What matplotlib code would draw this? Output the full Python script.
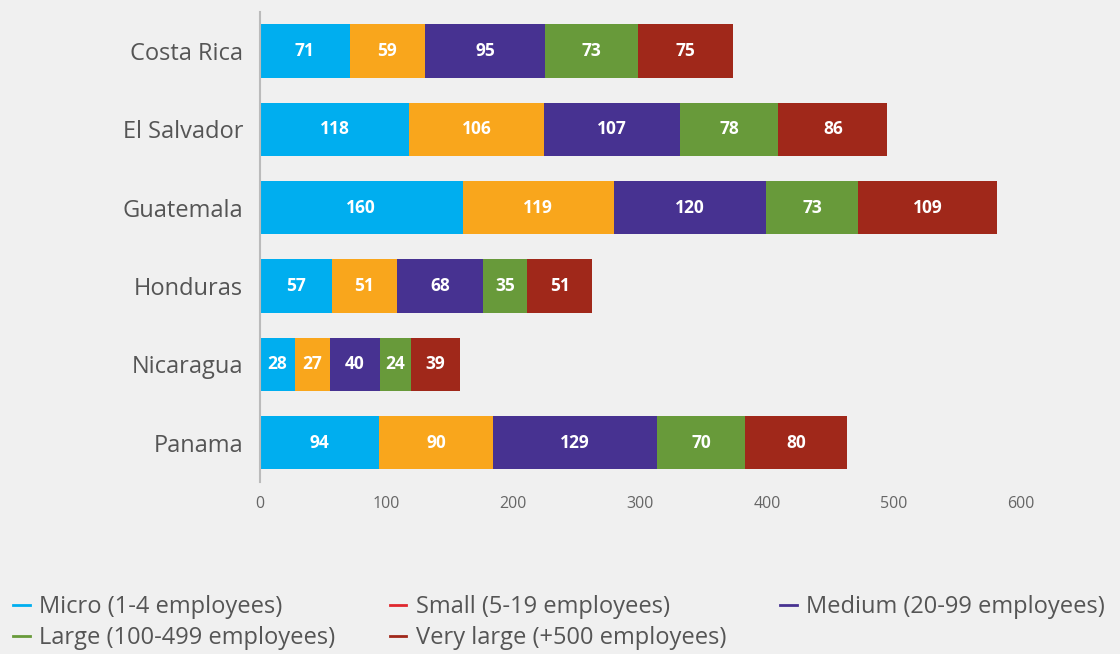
import matplotlib.pyplot as plt
from matplotlib.lines import Line2D
import numpy as np

plt.rcParams['font.family'] = ['Open Sans', 'DejaVu Sans']

countries = ['Costa Rica', 'El Salvador', 'Guatemala', 'Honduras', 'Nicaragua', 'Panama']
micro = [71, 118, 160, 57, 28, 94]
small = [59, 106, 119, 51, 27, 90]
medium = [95, 107, 120, 68, 40, 129]
large = [73, 78, 73, 35, 24, 70]
very_large = [75, 86, 109, 51, 39, 80]

series = [micro, small, medium, large, very_large]
names = ['Micro (1-4 employees)', 'Small (5-19 employees)', 'Medium (20-99 employees)',
         'Large (100-499 employees)', 'Very large (+500 employees)']
colors = ['#00aeef', '#f9a61c', '#473291', '#689a3a', '#a0281a']
legend_colors = ['#00aeef', '#e0282e', '#473291', '#689a3a', '#a0281a']
xticks = [0, 100, 200, 300, 400, 500, 600]

bg = '#f0f0f0'
fig = plt.figure(figsize=(11.2, 6.54), dpi=100, facecolor=bg)
ax = fig.add_axes([0.232, 0.263, 0.72, 0.719], facecolor=bg)

y = np.arange(len(countries))
left = np.zeros(len(countries))
for vals, col in zip(series, colors):
    vals = np.array(vals)
    ax.barh(y, vals, left=left, height=0.68, color=col, linewidth=0)
    for yi, l, v in zip(y, left, vals):
        ax.text(l + v / 2, yi, str(v), ha='center', va='center', color='white',
                fontsize=12.5, fontweight='bold')
    left += vals

ax.set_ylim(5.5, -0.5)
ax.set_xlim(0, 636)
ax.set_yticks(y)
ax.set_yticklabels(countries, fontsize=17, color='#555555')
ax.set_xticks(xticks)
ax.set_xticklabels([str(t) for t in xticks], fontsize=11.5, color='#666666')
ax.tick_params(axis='both', length=0)
ax.tick_params(axis='y', pad=12)
ax.tick_params(axis='x', pad=10)
for s in ['top', 'right', 'bottom']:
    ax.spines[s].set_visible(False)
ax.spines['left'].set_color('#bbbbbb')
ax.spines['left'].set_linewidth(1.5)

# legend is filled column by column, so reorder to get the reference's rows
order = [0, 3, 1, 4, 2]
handles = [Line2D([0], [0], color=legend_colors[i], lw=2) for i in order]
labels = [names[i] for i in order]
fig.legend(handles, labels, ncol=3, loc='lower left', bbox_to_anchor=(-0.007, -0.027),
           frameon=False, fontsize=17, handlelength=0.7, handletextpad=0.4,
           columnspacing=2.3, labelspacing=0.3, labelcolor='#555555')

fig.savefig('out.png', dpi=100, facecolor=bg)
